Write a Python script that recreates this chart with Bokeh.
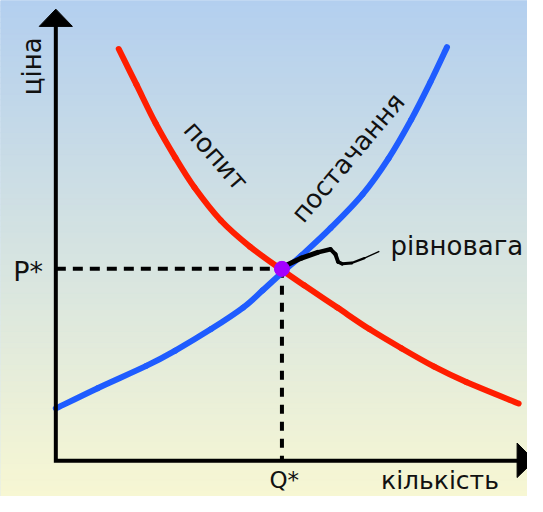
import numpy as np
from bokeh.plotting import figure
from bokeh.models import Range1d
from bokeh.core.properties import value
from bokeh.embed import file_html
from bokeh.resources import INLINE

# ---- data (economic units: quantity, price) ----
demand_q = [1.67, 2.14, 2.65, 3.17, 3.68, 4.38, 5.15, 6.00, 6.59, 7.47, 8.32, 9.17, 10.04, 10.89, 12.28]
demand_p = [10.73, 9.80, 8.79, 7.90, 7.12, 6.26, 5.58, 4.97, 4.57, 3.99, 3.43, 2.93, 2.45, 2.05, 1.49]

supply_q = [0.0, 1.11, 2.40, 3.17, 4.12, 4.97, 5.49, 6.00, 6.52, 7.29, 8.14, 8.83, 9.43, 9.94, 10.38]
supply_p = [1.36, 1.89, 2.47, 2.87, 3.43, 3.99, 4.44, 4.90, 5.35, 6.06, 6.94, 7.88, 8.89, 9.87, 10.78]

eq_q = 6.0
eq_p = 5.0

# pointer squiggle from equilibrium to its label
pointer_q = [6.13, 6.52, 6.95, 7.29, 7.42, 7.49, 7.60, 7.85, 8.19, 8.57]
pointer_p = [5.10, 5.28, 5.43, 5.51, 5.38, 5.18, 5.13, 5.15, 5.28, 5.45]

label_price = "ціна"
label_qty = "кількість"
label_demand = "попит"
label_supply = "постачання"
label_eq = "рівновага"
label_pstar = "P*"
label_qstar = "Q*"

FONT = value("DejaVu Sans")

X0, X1 = -1.468, 12.516
Y0, Y1 = -0.934, 11.995

p = figure(width=527, height=496, x_range=Range1d(X0, X1), y_range=Range1d(Y0, Y1),
           output_backend="svg", toolbar_location=None, min_border=0,
           x_axis_location=None, y_axis_location=None)
p.xgrid.visible = False
p.ygrid.visible = False
p.outline_line_color = None
p.background_fill_color = "#b3cfef"
p.border_fill_color = "#b3cfef"

# background gradient (light blue top -> light yellow bottom)
n = 90
edges = np.linspace(Y0, Y1, n + 1)
top_c = np.array([179, 207, 239])
bot_c = np.array([247, 247, 211])
cols = []
for i in range(n):
    t = (i + 0.5) / n
    c = bot_c + (top_c - bot_c) * t
    cols.append("#%02x%02x%02x" % tuple(int(round(v)) for v in c))
p.quad(left=X0, right=X1, bottom=edges[:-1], top=edges[1:], fill_color=cols, line_color=cols, line_width=1)


def smooth_curve(xs, ys, color):
    """Draw a smooth curve through the given points with cubic Bezier segments."""
    xs = np.asarray(xs, float)
    ys = np.asarray(ys, float)
    xp = np.concatenate([[xs[0]], xs, [xs[-1]]])
    yp = np.concatenate([[ys[0]], ys, [ys[-1]]])
    k = len(xs) - 1
    x0 = xs[:-1]; y0 = ys[:-1]; x1 = xs[1:]; y1 = ys[1:]
    cx0 = x0 + (xp[2:k + 2] - xp[0:k]) / 6.0
    cy0 = y0 + (yp[2:k + 2] - yp[0:k]) / 6.0
    cx1 = x1 - (xp[3:k + 3] - xp[1:k + 1]) / 6.0
    cy1 = y1 - (yp[3:k + 3] - yp[1:k + 1]) / 6.0
    p.bezier(x0=x0, y0=y0, x1=x1, y1=y1, cx0=cx0, cy0=cy0, cx1=cx1, cy1=cy1,
             line_color=color, line_width=6, line_cap="round")


# dashed guide lines
p.line([0, eq_q], [eq_p, eq_p], line_color="black", line_width=4, line_dash="10 7")
p.line([eq_q, eq_q], [eq_p, 0], line_color="black", line_width=4, line_dash="9 8")

# curves
smooth_curve(supply_q, supply_p, "#1f5cff")
smooth_curve(demand_q, demand_p, "#ff1e00")

# axes
p.line([0, 0, 12.3], [11.35, 0, 0], line_color="black", line_width=4, line_join="miter")
p.patch([-0.44, 0.0, 0.44], [11.32, 11.77, 11.32], fill_color="black", line_color="black")
p.patch([12.24, 12.70, 12.24], [0.46, 0.0, -0.44], fill_color="black", line_color="black")

# pointer squiggle (tapering)
widths = [5, 5, 4.5, 4, 4, 3.5, 3, 2.2, 1.4]
p.segment(x0=pointer_q[:-1], y0=pointer_p[:-1], x1=pointer_q[1:], y1=pointer_p[1:],
          line_color="black", line_width=widths, line_cap="round")

# equilibrium point
p.scatter([eq_q], [eq_p], size=15, fill_color="#a400ff", line_color="#a400ff")

# texts
p.text(x=[-0.63], y=[10.28], text=[label_price], angle=np.pi / 2, text_font=FONT,
       text_font_size=value("26px"), text_align="center", text_baseline="alphabetic", text_color="#111111")
p.text(x=[8.63], y=[-0.52], text=[label_qty], text_font=FONT, text_font_size=value("25px"),
       text_align="left", text_baseline="alphabetic", text_color="#111111")
p.text(x=[5.67], y=[-0.50], text=[label_qstar], text_font=FONT, text_font_size=value("23px"),
       text_align="left", text_baseline="alphabetic", text_color="#111111")
p.text(x=[-1.13], y=[4.93], text=[label_pstar], text_font=FONT, text_font_size=value("27px"),
       text_align="left", text_baseline="alphabetic", text_color="#111111")
p.text(x=[8.88], y=[5.59], text=[label_eq], text_font=FONT, text_font_size=value("26px"),
       text_align="left", text_baseline="alphabetic", text_color="#111111")
p.text(x=[4.25], y=[7.95], text=[label_demand], angle=-0.85, text_font=FONT, text_font_size=value("26px"),
       text_align="center", text_baseline="middle", text_color="#111111")
p.text(x=[7.75], y=[7.90], text=[label_supply], angle=0.87, text_font=FONT, text_font_size=value("26px"),
       text_align="center", text_baseline="middle", text_color="#111111")

open("out.html", "w").write(file_html(p, INLINE))
